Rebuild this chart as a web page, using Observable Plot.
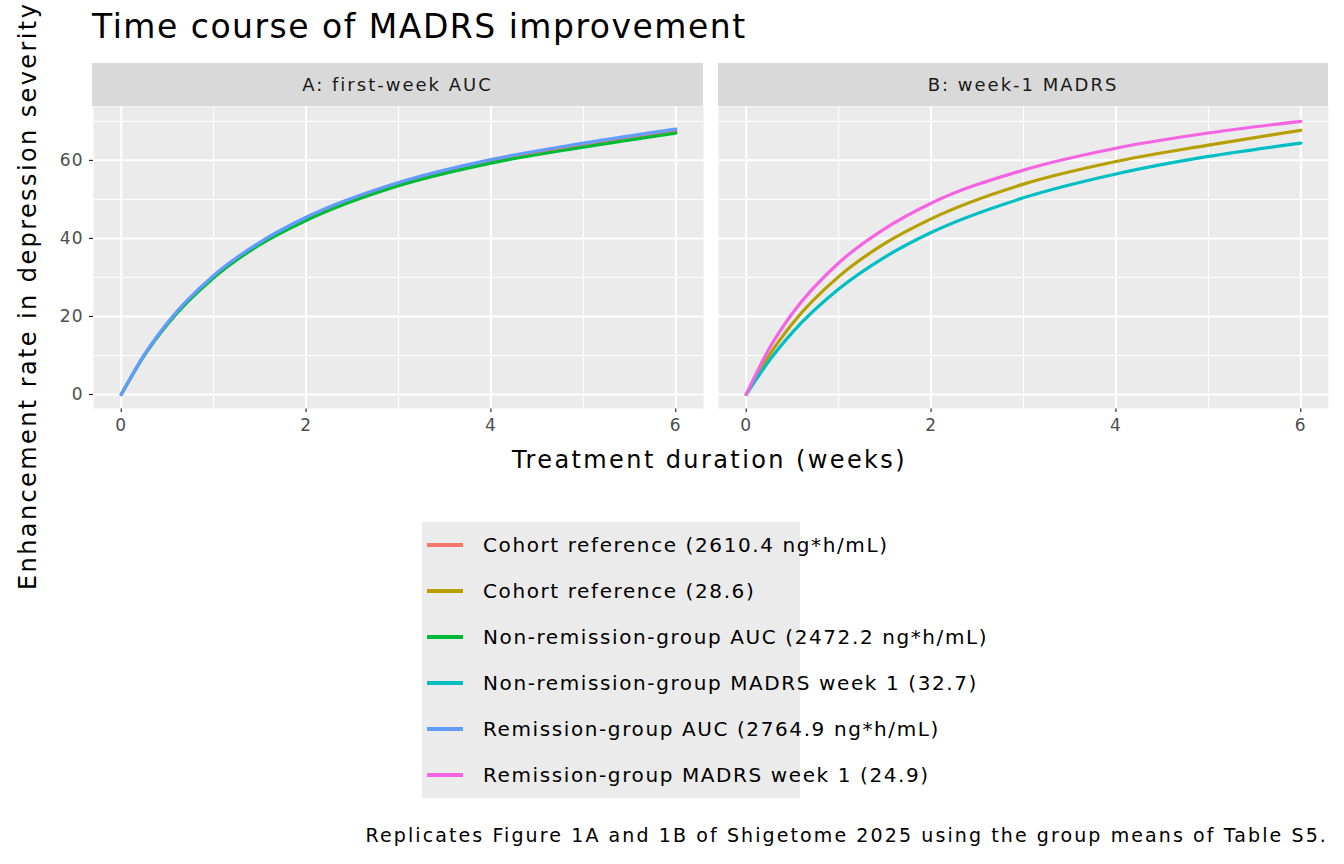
<!DOCTYPE html>
<html><head><meta charset="utf-8">
<script src="https://cdn.jsdelivr.net/npm/d3@7"></script>
<script src="https://cdn.jsdelivr.net/npm/@observablehq/plot@0.6"></script>
<style>
body{margin:0;background:#fff;font-family:"DejaVu Sans",sans-serif;width:1344px;height:864px;position:relative;overflow:hidden}
#chart{position:absolute;left:0;top:0}
.abs{position:absolute;white-space:nowrap}
.strip{position:absolute;top:63px;height:43px;background:#d9d9d9;color:#1a1a1a;font-size:18px;letter-spacing:2px;display:flex;align-items:center;justify-content:center}
</style></head><body>
<div id="chart"></div>
<div class="abs" style="left:92px;top:7px;font-size:33px;letter-spacing:1.5px;color:#000">Time course of MADRS improvement</div>
<div class="strip" style="left:92px;width:611px">A: first-week AUC</div>
<div class="strip" style="left:718px;width:610px">B: week-1 MADRS</div>
<div class="abs" style="left:507px;top:446px;width:405px;text-align:center;font-size:24px;letter-spacing:2.4px;color:#000">Treatment duration (weeks)</div>
<div class="abs" style="left:28px;top:590px;transform-origin:0 0;transform:translate(-14px,0) rotate(-90deg);font-size:24px;letter-spacing:2.4px;color:#000">Enhancement rate in depression severity</div>
<div id="legend" class="abs" style="left:422px;top:522px;width:378px;height:276px;background:#ebebeb"></div>
<div class="abs" style="right:16px;top:824px;font-size:19px;letter-spacing:2.1px;color:#000">Replicates Figure 1A and 1B of Shigetome 2025 using the group means of Table S5.</div>
<script>
const weeks = [0, 0.25, 0.5, 1, 1.5, 2, 3, 4, 5, 6];
const cohortAUC = [0, 10.1, 18.2, 30.2, 38.7, 45.0, 53.9, 59.7, 63.9, 67.5];
const nonRemAUC = [0, 10.0, 18.0, 29.9, 38.4, 44.6, 53.5, 59.3, 63.4, 67.0];
const remAUC = [0, 10.2, 18.4, 30.5, 39.0, 45.4, 54.3, 60.2, 64.4, 68.0];
const cohortMADRS = [0, 10.1, 18.2, 30.2, 38.7, 45.0, 53.9, 59.7, 63.9, 67.7];
const nonRemMADRS = [0, 8.7, 15.9, 27.0, 35.2, 41.5, 50.4, 56.5, 61.0, 64.4];
const remMADRS = [0, 11.8, 20.8, 33.7, 42.5, 49.0, 57.5, 63.1, 67.0, 70.0];
const panels = ["A: first-week AUC", "B: week-1 MADRS"];
const seriesNames = ["Cohort reference (2610.4 ng*h/mL)","Cohort reference (28.6)","Non-remission-group AUC (2472.2 ng*h/mL)","Non-remission-group MADRS week 1 (32.7)","Remission-group AUC (2764.9 ng*h/mL)","Remission-group MADRS week 1 (24.9)"];
const colors = ["#F8766D","#B79F00","#00BA38","#00BFC4","#619CFF","#F564E3"];
const seriesValues = [cohortAUC, cohortMADRS, nonRemAUC, nonRemMADRS, remAUC, remMADRS];
const seriesPanel = [0,1,0,1,0,1];
const drawOrder = [0,2,4,1,3,5];
const rows = [];
for (const i of drawOrder) weeks.forEach((w,j)=>rows.push({panel:panels[seriesPanel[i]], series:seriesNames[i], week:w, value:seriesValues[i][j]}));
const majX=[0,2,4,6], minX=[1,3,5], majY=[0,20,40,60], minY=[10,30,50,70];
const plot = Plot.plot({
  width:1344, height:480, marginTop:106, marginBottom:72, marginLeft:92, marginRight:16,
  style:{fontFamily:"DejaVu Sans, sans-serif", fontSize:"17px", background:"transparent"},
  fx:{domain:panels, padding:0.024, axis:null},
  x:{domain:[-0.3,6.3], ticks:majX, tickFormat:"d", tickSize:4, tickPadding:6, label:null},
  y:{domain:[-3.6,73.8], ticks:majY, tickFormat:"d", tickSize:4, tickPadding:6, label:null},
  color:{domain:seriesNames, range:colors},
  marks:[
    Plot.frame({fill:"#ebebeb", stroke:null}),
    Plot.ruleX(minX,{stroke:"#fff", strokeWidth:1}),
    Plot.ruleY(minY,{stroke:"#fff", strokeWidth:1}),
    Plot.ruleX(majX,{stroke:"#fff", strokeWidth:2}),
    Plot.ruleY(majY,{stroke:"#fff", strokeWidth:2}),
    Plot.line(rows,{fx:"panel", x:"week", y:"value", z:"series", stroke:"series", strokeWidth:3.2, curve:"monotone-x"})
  ]
});
document.getElementById("chart").appendChild(plot);
d3.select(plot).selectAll("[aria-label='x-axis tick label'] text, [aria-label='y-axis tick label'] text").attr("fill","#4d4d4d").style("letter-spacing","1px");
d3.select(plot).selectAll("[aria-label='x-axis tick'], [aria-label='y-axis tick']").attr("stroke","#333");
const lg = document.getElementById("legend");
seriesNames.forEach((n,i)=>{
  const d=document.createElement("div");
  d.style.cssText=`position:absolute;left:5px;top:${23+i*46-14}px;height:28px;display:flex;align-items:center;font-size:20px;letter-spacing:1.6px;color:#000;white-space:nowrap`;
  d.innerHTML=`<span style="display:inline-block;width:36px;height:3.5px;background:${colors[i]};margin-right:20px"></span>${n}`;
  lg.appendChild(d);
});
</script></body></html>
